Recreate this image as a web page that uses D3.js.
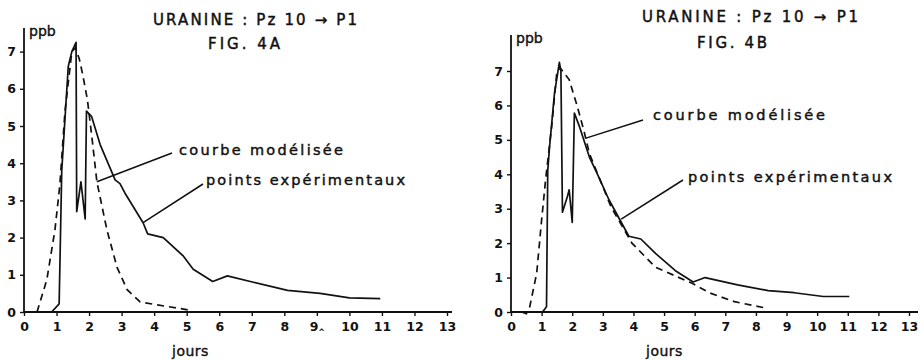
<!DOCTYPE html>
<html>
<head>
<meta charset="utf-8">
<script src="https://cdn.jsdelivr.net/npm/d3@7"></script>
<style>
  body { margin: 0; background: #fff; }
  text { font-family: "DejaVu Sans", "Liberation Sans", sans-serif; fill: #111; }
</style>
</head>
<body>
<svg id="chart" width="920" height="360"></svg>
<script>
// jours / ppb
var xTicks = [0, 1, 2, 3, 4, 5, 6, 7, 8, 9, 10, 11, 12, 13];
var yTicks = [0, 1, 2, 3, 4, 5, 6, 7];

// FIG. 4A
var measuredA = [[0,0],[0.85,0],[1.08,0.22],[1.16,3.8],[1.36,6.6],[1.47,7.0],[1.6,7.25],[1.62,2.7],
  [1.75,3.5],[1.88,2.5],[1.92,5.4],[2.08,5.25],[2.34,4.5],[2.8,3.55],[2.95,3.45],[3.1,3.2],
  [3.66,2.4],[3.8,2.1],[4.28,2.0],[4.9,1.5],[5.2,1.15],[5.8,0.82],[6.25,0.97],[7.05,0.8],
  [8.1,0.58],[9.1,0.5],[10.0,0.38],[10.95,0.36]];
var modelA = [[0.4,0],[0.7,0.86],[0.95,2.2],[1.1,3.4],[1.26,5.4],[1.47,7.0],[1.58,7.1],[1.7,6.8],
  [1.8,6.4],[1.95,5.7],[2.1,4.6],[2.24,3.5],[2.55,2.2],[2.86,1.2],[3.17,0.6],[3.57,0.27],
  [4.1,0.19],[5.1,0.05]];

// FIG. 4B
var measuredB = [[0,0],[1.03,0],[1.16,0.15],[1.2,4.1],[1.26,4.8],[1.42,6.35],[1.58,7.25],[1.63,7.0],
  [1.68,2.9],[1.84,3.35],[1.9,3.55],[2.0,2.6],[2.07,5.78],[2.23,5.4],[2.56,4.5],[2.8,4.05],
  [3.2,3.26],[3.85,2.2],[4.24,2.12],[4.72,1.7],[5.37,1.2],[5.95,0.87],[6.34,1.0],[7.4,0.79],
  [8.4,0.62],[9.25,0.56],[10.2,0.45],[11.05,0.45]];
var modelB = [[0.35,0],[0.5,-0.05],[0.6,0.1],[0.84,1.13],[1.0,2.67],[1.13,3.84],[1.33,5.4],[1.49,6.9],
  [1.6,7.1],[1.9,6.75],[2.17,5.96],[2.4,5.2],[2.56,4.6],[3.27,3.05],[3.95,2.0],[4.72,1.3],
  [5.9,0.84],[6.5,0.55],[7.3,0.3],[8.3,0.12]];

var svg = d3.select("#chart");

// text stretched to the width it has on the scan
function label(g, str, x, y, width, size) {
  return g.append("text").attr("x", x).attr("y", y)
    .attr("font-size", size)
    .attr("stroke", "#111").attr("stroke-width", 0.45)
    .attr("textLength", width).attr("lengthAdjust", "spacing")
    .text(str);
}

function panel(opt) {
  var x = d3.scaleLinear().domain([0, 13]).range([opt.x0, opt.x13]),
      y = d3.scaleLinear().domain([0, 7]).range([312, opt.y7]);
  var g = svg.append("g");

  // axes
  var xAxis = g.append("g").attr("transform", "translate(0,312)")
    .call(d3.axisBottom(x).tickValues(xTicks).tickSize(4).tickPadding(6).tickFormat(d3.format("d")));
  xAxis.select(".domain").attr("d", "M" + x(0) + ",0H" + opt.xEnd);
  var yAxis = g.append("g").attr("transform", "translate(" + x(0) + ",0)")
    .call(d3.axisLeft(y).tickValues(yTicks).tickSize(4).tickPadding(4).tickFormat(d3.format("d")));
  yAxis.select(".domain").attr("d", "M0,312V" + opt.yTop);
  g.selectAll(".domain").attr("stroke", "#111").attr("stroke-width", 1.8);
  g.selectAll(".tick line").attr("stroke", "#111").attr("stroke-width", 1.4);
  g.selectAll(".tick text").attr("font-size", 12.5).attr("font-weight", "bold")
    .attr("font-family", "Liberation Sans, Arial, sans-serif").style("fill", "#111");
  if (opt.nineMark) {
    xAxis.selectAll(".tick text").filter(function(d) { return d === 9; })
      .append("tspan").attr("font-size", 8).attr("dy", 4).text("^");
  }

  var line = d3.line().x(function(d) { return x(d[0]); }).y(function(d) { return y(d[1]); });
  g.append("path").datum(opt.model).attr("d", line)
    .attr("fill", "none").attr("stroke", "#111").attr("stroke-width", 1.7)
    .attr("stroke-dasharray", "7,5");
  g.append("path").datum(opt.measured).attr("d", line)
    .attr("fill", "none").attr("stroke", "#111").attr("stroke-width", 1.7)
    .attr("stroke-linejoin", "round");

  // labels
  g.append("text").attr("x", x(0) + 5).attr("y", opt.yTop + 8)
    .attr("font-size", 14).attr("stroke", "#111").attr("stroke-width", 0.4).text("ppb");
  g.append("text").attr("x", opt.joursX).attr("y", 356)
    .attr("font-size", 14).attr("stroke", "#111").attr("stroke-width", 0.4)
    .attr("letter-spacing", 0.5).text("jours");
  label(g, "URANINE : Pz 10 \u2192 P1", opt.title[0], opt.title[1], opt.title[2], 15);
  label(g, opt.fig, opt.figPos[0], opt.figPos[1], opt.figPos[2], 15);

  // annotations with leader lines
  opt.notes.forEach(function(n) {
    label(g, n.label, n.tx, n.ty, n.w, 14.5);
    g.append("line")
      .attr("x1", n.lx).attr("y1", n.ly)
      .attr("x2", x(n.at[0])).attr("y2", y(n.at[1]))
      .attr("stroke", "#111").attr("stroke-width", 1.5);
  });
}

panel({
  x0: 24, x13: 447, xEnd: 452, y7: 51.6, yTop: 28,
  measured: measuredA, model: modelA, nineMark: true,
  joursX: 172, title: [153, 25, 204], fig: "FIG. 4A", figPos: [208, 49, 72],
  notes: [
    { label: "courbe modélisée", tx: 179, ty: 155, w: 164, lx: 172, ly: 153, at: [2.24, 3.5] },
    { label: "points expérimentaux", tx: 206, ty: 185, w: 199, lx: 203, ly: 184, at: [3.66, 2.4] }
  ]
});

panel({
  x0: 511, x13: 909, xEnd: 918, y7: 71, yTop: 35,
  measured: measuredB, model: modelB, nineMark: false,
  joursX: 646, title: [642, 22, 216], fig: "FIG. 4B", figPos: [697, 48, 70],
  notes: [
    { label: "courbe modélisée", tx: 653, ty: 120, w: 172, lx: 643, ly: 120, at: [2.45, 5.05] },
    { label: "points expérimentaux", tx: 688, ty: 182, w: 204, lx: 683, ly: 180, at: [3.6, 2.7] }
  ]
});
</script>
</body>
</html>
